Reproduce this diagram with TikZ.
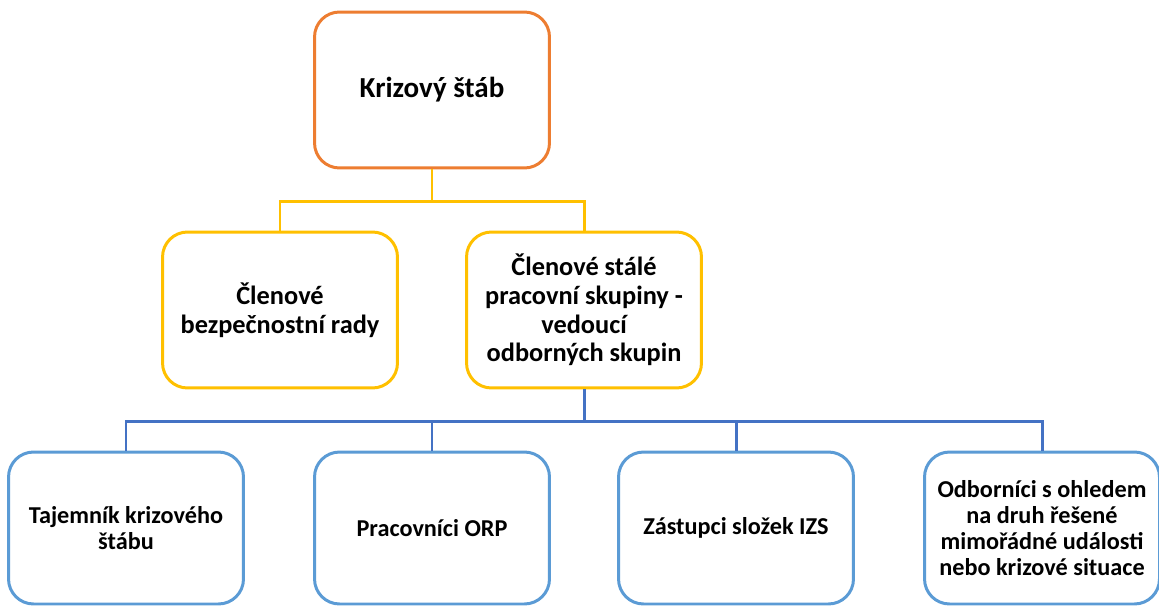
\documentclass[tikz,border=0pt]{standalone}
\usepackage{fontspec}
\setmainfont{Carlito}
\usepackage{tikz}
\usetikzlibrary{positioning}
\definecolor{orgline}{HTML}{ED7D31}
\definecolor{yelline}{HTML}{FFC000}
\definecolor{bluline}{HTML}{4472C4}
\definecolor{boxblue}{HTML}{5B9BD5}
\tikzset{orgbox/.style = {draw, line width=1.7pt, rounded corners=0.5cm, fill=white,
                          align=center, font=\bfseries\fontsize{13.8}{14.9}\selectfont,
                          minimum width=4.7cm, minimum height=3.12cm, inner sep=2pt},
         headbox/.style = {orgbox, draw=orgline, font=\bfseries\fontsize{16.5}{19}\selectfont},
         midbox/.style = {orgbox, draw=yelline, font=\bfseries\fontsize{15}{16.4}\selectfont},
         lowbox/.style = {orgbox, draw=boxblue, minimum height=3.04cm},
         link/.style = {line width=1.7pt}}

\begin{document}
\begin{tikzpicture}[x=0.02cm, y=-0.02cm]
    \useasboundingbox (0, 0) rectangle (1159, 605);
    \node [headbox] (stab) at (432, 90) {Krizový štáb};
    \node [midbox] (rada) at (280, 310) {Členové\\bezpečnostní rady};
    \node [midbox] (skupina) at (584, 310) {Členové stálé\\pracovní skupiny -\\vedoucí\\odborných skupin};
    \node [lowbox] (tajemnik) at (126, 528) {Tajemník krizového\\štábu};
    \node [lowbox] (orp) at (432, 528) {Pracovníci ORP};
    \node [lowbox] (izs) at (736, 528) {Zástupci složek IZS};
    \node [lowbox] (odbornici) at (1042, 528) {Odborníci s ohledem\\na druh řešené\\mimořádné události\\nebo krizové situace};
    % yellow level
    \draw [link, yelline] (stab.south) -- ++(0, 32) coordinate (yfork);
    \draw [link, yelline] (yfork) -| (rada.north);
    \draw [link, yelline] (yfork) -| (skupina.north);
    % blue level
    \draw [link, bluline] (skupina.south) -- ++(0, 32) coordinate (bfork);
    \foreach \n in {tajemnik, orp, izs, odbornici}
      \draw [link, bluline] (bfork) -| (\n.north);
\end{tikzpicture}
\end{document}
